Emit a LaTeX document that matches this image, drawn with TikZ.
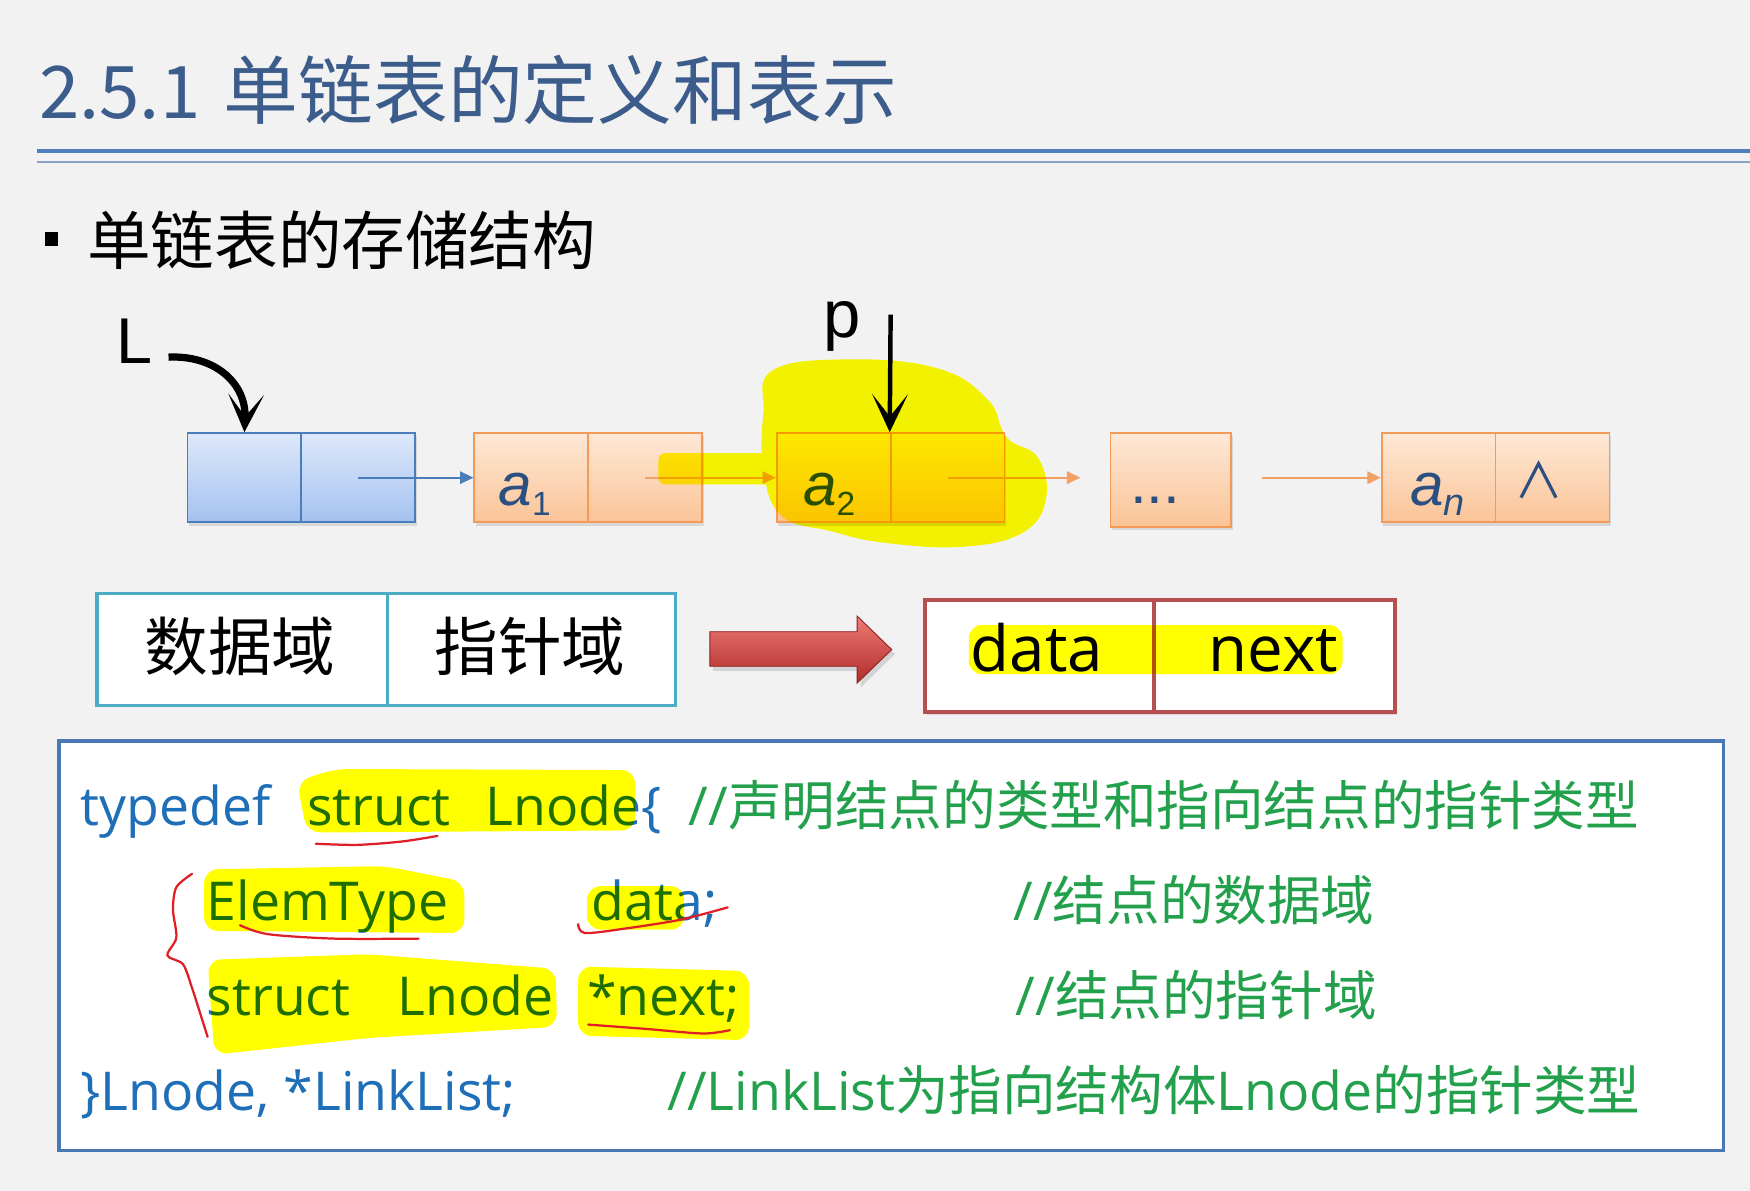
\documentclass[tikz,border=0pt]{standalone}
\usepackage{fontspec}
\setmainfont{Noto Sans CJK SC}
\newfontfamily\cjk{Noto Sans CJK SC}
\newfontfamily\osans{Open Sans}
\newfontfamily\arial{Liberation Sans}
\usetikzlibrary{arrows.meta,shadows}
\definecolor{bgc}{HTML}{F2F2F2}
\definecolor{titlec}{HTML}{3C5C8C}
\definecolor{rulea}{HTML}{4F7FBF}
\definecolor{ruleb}{HTML}{8AA2C2}
\definecolor{headborder}{HTML}{4A7EBB}
\definecolor{headtop}{HTML}{DDE8FA}
\definecolor{headbot}{HTML}{A4C2F0}
\definecolor{orborder}{HTML}{F39A58}
\definecolor{ortop}{HTML}{FDE8D6}
\definecolor{orbot}{HTML}{FBC497}
\definecolor{orarrow}{HTML}{F2A064}
\definecolor{nodetext}{HTML}{2B4F7F}
\definecolor{tealc}{HTML}{4BACC6}
\definecolor{boxred}{HTML}{B5504E}
\definecolor{codeblue}{HTML}{1E6EB8}
\definecolor{cmt}{HTML}{22A04B}
\definecolor{codebox}{HTML}{4A78B5}
\definecolor{hlc}{HTML}{FFFF00}
\definecolor{annot}{HTML}{E01E25}
\definecolor{arrtop}{HTML}{EC7A76}
\definecolor{arrmid}{HTML}{D94A46}
\definecolor{arrbot}{HTML}{B02C29}
\definecolor{arredge}{HTML}{8E2220}
\newcommand\myfs[1]{\fontsize{#1}{#1}\selectfont}
\begin{document}
\begin{tikzpicture}[x=1pt,y=-1pt,
  shadowed/.style={drop shadow={shadow xshift=1.5pt,shadow yshift=-3pt,opacity=0.22}},
  hcell/.style={draw=headborder,line width=1.6pt,top color=headtop,bottom color=headbot,minimum width=102pt,minimum height=80pt,inner sep=0pt,shadowed},
  ocell/.style={draw=orborder,line width=1.6pt,top color=ortop,bottom color=orbot,minimum width=102pt,minimum height=80pt,inner sep=0pt,shadowed},
  ltxt/.style={anchor=base,inner sep=0pt,text=nodetext,font=\arial\itshape\myfs{54}},
  harrow/.style={-{Triangle[length=12pt,width=11pt]},line width=2pt},
  bigarrow/.style={-{Stealth[length=34pt,width=32pt,inset=20pt]},line width=4pt,black},
  code/.style={anchor=base west,inner sep=0pt,font=\osans\myfs{48}},
  hl/.style={fill=hlc,rounded corners=12pt},
  ann/.style={draw=annot,line width=2pt,line cap=round},
]
\useasboundingbox (0,0) rectangle (1568,1067);
\fill[bgc] (0,0) rectangle (1568,1067);

% title
\node[anchor=base west,inner sep=0pt,text=titlec] (title) at (35,106)
  {\myfs{65}2.5.1\hspace{21pt}\myfs{67}单链表的定义和表示};
\draw[line width=3.5pt,rulea] (33,135) -- (1568,135);
\draw[line width=2pt,ruleb] (33,145) -- (1568,145);

% bullet
\node[fill=black,minimum size=12pt,inner sep=0pt] (bullet) at (46,214) {};
\node[anchor=base west,inner sep=0pt,font=\myfs{57}] (sub) at (78,237) {单链表的存储结构};

% linked list
\node[hcell] (h1) at (219,428) {};
\node[hcell] (h2) at (321,428) {};
\node[ocell] (a1d) at (476,428) {};
\node[ocell] (a1n) at (578,428) {};
\node[ocell] (a2d) at (747,428) {};
\node[ocell] (a2n) at (849,428) {};
\node[ocell,minimum width=108pt,minimum height=84pt] (dots) at (1049,430) {};
\node[ocell] (and) at (1289,428) {};
\node[ocell] (ann) at (1391,428) {};

\node[ltxt] (a1t) at (470,453) {a\raisebox{-9pt}{\upshape\myfs{30}1}};
\node[ltxt] (a2t) at (743,453) {a\raisebox{-9pt}{\upshape\myfs{30}2}};
\node[ltxt] (ant) at (1288,453) {a\raisebox{-9pt}{\myfs{34}n}};
\node[anchor=base,inner sep=0pt,text=nodetext,font=\arial\myfs{54}] (dtxt) at (1035,451) {...};
\node[anchor=base,inner sep=0pt,text=nodetext,font=\cjk\myfs{44}] (nil) at (1379,447) {∧};

\coordinate (e1) at (968,428);
\coordinate (s2) at (1131,428);
\draw[harrow,headborder] (h2.center) -- (a1d.west);
\draw[harrow,orarrow] (a1n.center) -- (a2d.west);
\draw[harrow,orarrow] (a2n.center) -- (e1);
\draw[harrow,orarrow] (s2) -- (and.west);

\node[anchor=base west,inner sep=0pt,font=\arial\myfs{58}] (L) at (104,326) {L};
\node[anchor=base west,inner sep=0pt,font=\arial\myfs{60}] (p) at (738,302) {p};
\coordinate (Ls) at (151,320);
\coordinate (ps) at (798,282);
\draw[bigarrow,line width=6.5pt] (Ls) .. controls (192,318) and (221,343) .. (h1.north);
\draw[bigarrow] (ps) -- (a2n.north west);

% field boxes
\node[draw=tealc,line width=3pt,fill=white,minimum width=260pt,minimum height=100pt,inner sep=0pt] (f1) at (217,582) {};
\node[draw=tealc,line width=3pt,fill=white,minimum width=258pt,minimum height=100pt,inner sep=0pt] (f2) at (476,582) {};
\node[anchor=base,inner sep=0pt,font=\myfs{57}] (f1t) at (215,601) {数据域};
\node[anchor=base,inner sep=0pt,font=\myfs{57}] (f2t) at (475,601) {指针域};

\fill[black,opacity=0.12] (639,570) -- (771,570) -- (771,556) -- (802,586) -- (771,616) -- (771,601) -- (639,601) -- cycle;
\shade[top color=arrtop,middle color=arrmid,bottom color=arrbot,draw=arredge,line width=0.8pt,line join=miter]
  (636,566) -- (768,566) -- (768,552) -- (799,582) -- (768,612) -- (768,597) -- (636,597) -- cycle;

\node[draw=boxred,line width=3.5pt,fill=white,minimum width=205pt,minimum height=100pt,inner sep=0pt,shadowed] (g1) at (931.5,588) {};
\node[draw=boxred,line width=3.5pt,fill=white,minimum width=216pt,minimum height=100pt,inner sep=0pt,shadowed] (g2) at (1142,588) {};
\node[anchor=base,inner sep=0pt,font=\osans\myfs{57}] (g1t) at (929,602) {data};
\node[anchor=base,inner sep=0pt,font=\osans\myfs{57}] (g2t) at (1141,602) {next};

% code box
\node[draw=codebox,line width=3pt,fill=white,minimum width=1491pt,minimum height=367pt,inner sep=0pt] (cbox) at (798.5,847.5) {};
\node[code,text=codeblue] (t1) at (72,740) {typedef};
\node[code,text=codeblue] (s1) at (275,740) {struct};
\node[code,text=codeblue] (n1) at (435,740) {Lnode\{};
\node[code,text=cmt] (m1) at (617,740) {//\cjk 声明结点的类型和指向结点的指针类型};
\node[code,text=codeblue] (t2) at (185,825) {ElemType};
\node[code,text=codeblue] (d2) at (530,825) {data;};
\node[code,text=cmt] (m2) at (908,825) {//\cjk 结点的数据域};
\node[code,text=codeblue] (s3) at (185,910) {struct};
\node[code,text=codeblue] (n3) at (356,910) {Lnode};
\node[code,text=codeblue] (x3) at (526,910) {*next;};
\node[code,text=cmt] (m3) at (910,910) {//\cjk 结点的指针域};
\node[code,text=codeblue] (t4) at (72,995) {\}Lnode, *LinkList;};
\node[code,text=cmt] (m4) at (598,995) {//LinkList{\cjk 为指向结构体}Lnode{\cjk 的指针类型}};

% highlighter strokes
\begin{scope}[blend mode=multiply]
\fill[hlc] plot[smooth cycle,tension=0.7] coordinates {(692,332) (760,322) (840,330) (885,358) (902,392) (930,410) (937,448) (915,478) (860,490) (790,486) (745,476) (700,462) (684,420) (684,370)};
\fill[hl,rounded corners=6pt] (590,406) rectangle (700,434);
\fill[hl] (868,560) rectangle (1203,604);
\fill[hl] (266,700) -- (300,689) -- (569,690) -- (569,744) -- (275,746) -- cycle;
\fill[hl] (183,779) -- (345,776) -- (416,790) -- (416,836) -- (183,834) -- cycle;
\fill[hl] (526,794) rectangle (613,833);
\fill[hl] (186,860) -- (330,855) -- (498,868) -- (499,920) -- (330,930) -- (192,945) -- cycle;
\fill[hl] (518,866) -- (671,870) -- (671,932) -- (518,928) -- cycle;
\end{scope}

% red pen marks
\draw[ann] plot[smooth] coordinates {(283,756) (320,757) (360,754) (392,749)};
\draw[ann] plot[smooth] coordinates {(215,829) (240,837) (300,841) (375,841)};
\draw[ann] plot[smooth] coordinates {(518,828) (524,836) (560,832) (610,824) (652,813)};
\draw[ann] plot[smooth] coordinates {(527,918) (580,922) (630,926) (654,923)};
\draw[ann] plot[smooth] coordinates {(172,783) (158,795) (155,815) (158,840) (150,856) (164,864) (172,885) (180,910) (186,929)};
\end{tikzpicture}
\end{document}
